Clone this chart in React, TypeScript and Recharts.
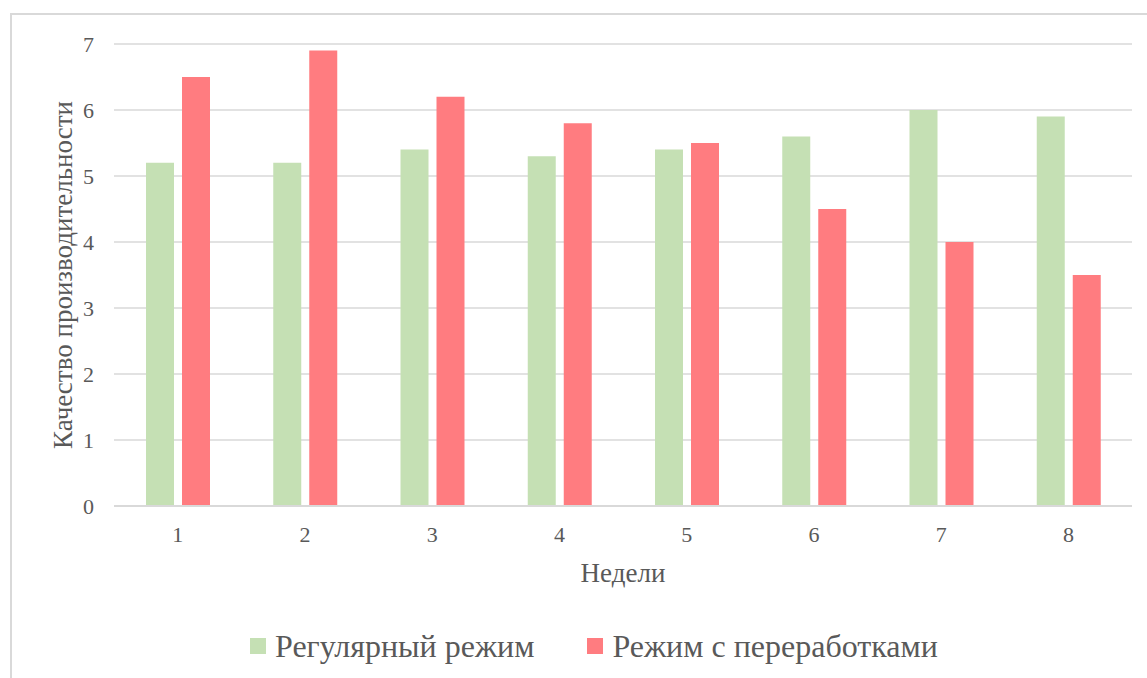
import React from 'react';
import { BarChart, Bar, XAxis, YAxis, CartesianGrid, Legend } from 'recharts';

const weeks = ['1', '2', '3', '4', '5', '6', '7', '8'];
const regular = [5.2, 5.2, 5.4, 5.3, 5.4, 5.6, 6.0, 5.9];
const overtime = [6.5, 6.9, 6.2, 5.8, 5.5, 4.5, 4.0, 3.5];
const yTicks = [0, 1, 2, 3, 4, 5, 6, 7];
const regularName = 'Регулярный режим';
const overtimeName = 'Режим с переработками';
const xTitle = 'Недели';
const yTitle = 'Качество производительности';

const data = weeks.map((w, i) => ({ week: w, regular: regular[i], overtime: overtime[i] }));

const FONT = '"Liberation Serif", "Times New Roman", serif';
const TEXT = '#595959';
const GRID = '#d9d9d9';

const renderLegend = (props: any) => {
  const { payload } = props;
  return (
    <div style={{ display: 'flex', alignItems: 'center', fontFamily: FONT, fontSize: 32, color: TEXT, whiteSpace: 'nowrap', lineHeight: '36px' }}>
      {payload.map((p: any, i: number) => (
        <div key={p.value} style={{ display: 'flex', alignItems: 'center', marginLeft: i ? 53 : 0 }}>
          <span style={{ display: 'inline-block', width: 16, height: 16, background: p.color, marginRight: 9 }} />
          <span>{p.value}</span>
        </div>
      ))}
    </div>
  );
};

export default function App() {
  return (
    <div style={{ position: 'absolute', left: 0, top: 0, width: 1147, height: 678, overflow: 'hidden', background: '#fff' }}>
      <div style={{ position: 'absolute', left: 10, top: 13, width: 1200, height: 720, border: `2px solid ${GRID}` }} />
      <div style={{ position: 'absolute', left: 0, top: 0 }}>
        <BarChart
          width={1147}
          height={678}
          data={data}
          margin={{ top: 44, right: 15, bottom: 92, left: 10 }}
          barSize={28}
          barGap={8}
        >
          <CartesianGrid vertical={false} stroke={GRID} strokeWidth={1.5} />
          <XAxis
            dataKey="week"
            height={80}
            tickSize={0}
            tickMargin={20}
            axisLine={{ stroke: GRID, strokeWidth: 2 }}
            tickLine={false}
            tick={{ fill: TEXT, fontSize: 22, fontFamily: FONT }}
            label={{ value: xTitle, position: 'insideBottom', offset: 4, fill: TEXT, fontSize: 27, fontFamily: FONT }}
          />
          <YAxis
            width={104}
            domain={[0, 7]}
            ticks={yTicks}
            interval={0}
            tickSize={0}
            tickMargin={20}
            axisLine={false}
            tickLine={false}
            tick={{ fill: TEXT, fontSize: 22, fontFamily: FONT }}
            label={{ value: yTitle, angle: -90, position: 'center', fill: TEXT, fontSize: 27, fontFamily: FONT }}
          />
          <Legend
            layout="horizontal"
            verticalAlign="middle"
            align="center"
            content={renderLegend}
            wrapperStyle={{ left: 250, top: 628, width: 'auto', height: 'auto' }}
          />
          <Bar dataKey="regular" name={regularName} fill="#C5E0B4" isAnimationActive={false} />
          <Bar dataKey="overtime" name={overtimeName} fill="#FF7C80" isAnimationActive={false} />
        </BarChart>
      </div>
    </div>
  );
}
